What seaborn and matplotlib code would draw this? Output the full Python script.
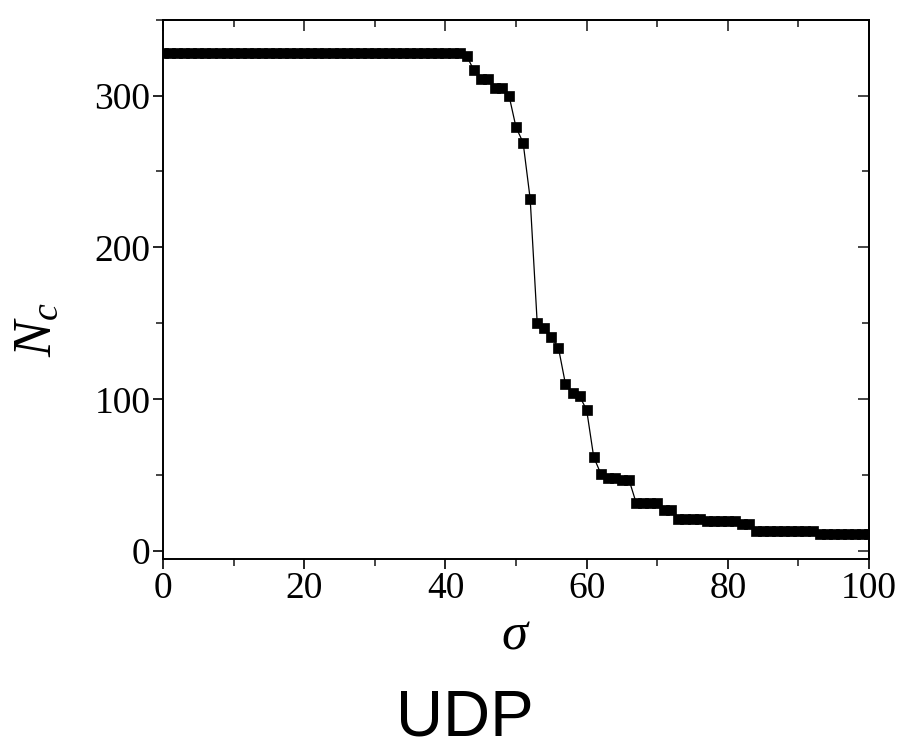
#!/usr/bin/env python3
import numpy as np
import pandas as pd
import seaborn as sns
import matplotlib.pyplot as plt
from matplotlib.ticker import MultipleLocator

sns.set_theme(style="ticks")
plt.rcParams["font.family"] = ["Liberation Serif", "DejaVu Serif"]
plt.rcParams["mathtext.fontset"] = "custom"
plt.rcParams["mathtext.rm"] = "Liberation Serif"
plt.rcParams["mathtext.it"] = "Liberation Serif:italic"
plt.rcParams["text.color"] = "black"
plt.rcParams["axes.labelcolor"] = "black"

# sigma values 0..100 and the number of clusters
sigma = list(range(0, 101))
n_c = [
    328, 328, 328, 328, 328, 328, 328, 328, 328, 328,   # 0-9
    328, 328, 328, 328, 328, 328, 328, 328, 328, 328,   # 10-19
    328, 328, 328, 328, 328, 328, 328, 328, 328, 328,   # 20-29
    328, 328, 328, 328, 328, 328, 328, 328, 328, 328,   # 30-39
    328, 328, 328, 326, 317, 311, 311, 305, 305, 300,   # 40-49
    279, 269, 232, 150, 147, 141, 134, 110, 104, 102,   # 50-59
    93, 62, 51, 48, 48, 47, 47, 32, 32, 32,             # 60-69
    32, 27, 27, 21, 21, 21, 21, 20, 20, 20,             # 70-79
    20, 20, 18, 18, 13, 13, 13, 13, 13, 13,             # 80-89
    13, 13, 13, 11, 11, 11, 11, 11, 11, 11,             # 90-99
    11,                                                 # 100
]

df = pd.DataFrame({"sigma": sigma, "nc": n_c})

fig = plt.figure(figsize=(9.01, 7.53), dpi=100)
ax = fig.add_axes([0.181, 0.258, 0.7835, 0.716])

sns.lineplot(data=df, x="sigma", y="nc", ax=ax, color="black", linewidth=0.9,
             marker="s", markersize=6.8, markeredgecolor="black",
             markerfacecolor="black", markeredgewidth=0.5)

ax.set_xlim(0, 100)
ax.set_ylim(-5, 350)
ax.xaxis.set_major_locator(MultipleLocator(20))
ax.xaxis.set_minor_locator(MultipleLocator(10))
ax.yaxis.set_major_locator(MultipleLocator(100))
ax.yaxis.set_minor_locator(MultipleLocator(50))

for side in ["left", "right", "top", "bottom"]:
    ax.spines[side].set_visible(True)
    ax.spines[side].set_linewidth(1.4)
    ax.spines[side].set_color("black")

ax.tick_params(axis="both", which="major", direction="out", length=7, width=1.2,
               labelsize=27, pad=2, colors="black")
ax.tick_params(axis="both", which="minor", direction="out", length=5, width=1.2)
# secondary axes ticks point inward, no labels
axr = ax.secondary_yaxis("right")
axr.yaxis.set_major_locator(MultipleLocator(100))
axr.yaxis.set_minor_locator(MultipleLocator(50))
axr.tick_params(which="major", direction="in", length=8, width=1.2, labelright=False)
axr.tick_params(which="minor", direction="in", length=5, width=1.2)
axr.spines["right"].set_linewidth(1.4)
axt = ax.secondary_xaxis("top")
axt.xaxis.set_major_locator(MultipleLocator(20))
axt.xaxis.set_minor_locator(MultipleLocator(10))
axt.tick_params(which="major", direction="in", length=8, width=1.2, labeltop=False)
axt.tick_params(which="minor", direction="in", length=5, width=1.2)
axt.spines["top"].set_linewidth(1.4)

ax.set_xlabel(r"$\sigma$", fontsize=38, labelpad=4, color="black")
ax.set_ylabel(r"$N_c$", fontsize=39, color="black")
ax.yaxis.set_label_coords(-0.142, 0.425)

fig.text(0.516, 0.006, "UDP", fontsize=47, family="Liberation Sans",
         ha="center", va="bottom", color="black")

fig.savefig("out.png", dpi=100)
